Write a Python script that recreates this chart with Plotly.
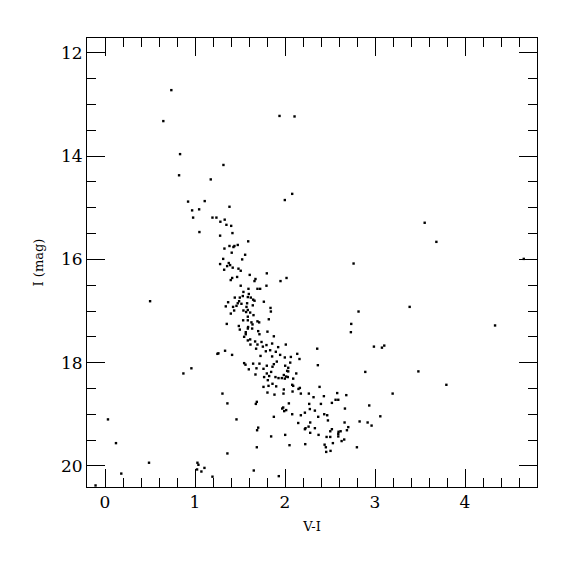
import plotly.graph_objects as go

# V-I colour and I magnitude of each star
v_i = [
    0.737, 0.648, 0.834, 1.316, 0.823, 1.175, 1.939, 2.106, 3.552, 3.682, 4.653, 0.501,
    0.923, 1.108, 0.968, 1.046, 1.383, 0.979, 1.194, 1.238, 1.330, 1.282, 1.349, 1.402,
    1.998, 1.049, 1.416, 1.279, 1.591, 1.475, 1.438, 1.427, 1.383, 1.327, 1.408, 1.557,
    1.313, 1.524, 1.375, 1.279, 1.390, 1.357, 1.419, 1.324, 1.483, 1.508, 1.798, 1.608,
    1.468, 1.672, 1.413, 1.397, 1.661, 2.017, 1.950, 1.508, 1.794,
    1.594, 1.694, 1.724, 1.538, 1.598, 1.442, 1.498, 1.531, 1.587, 1.620, 1.646, 1.661,
    1.765, 1.368, 1.490, 1.475, 1.516, 1.579, 1.642, 1.342, 1.423, 1.461, 1.572, 1.839,
    1.435, 1.538, 1.587, 1.568, 1.843, 1.398, 1.613, 1.650, 1.587, 1.820, 1.535, 1.587,
    1.627, 1.694, 1.713, 1.353, 1.487, 1.639, 1.590, 1.498, 1.587, 1.635, 1.564, 1.702,
    1.805, 1.716, 1.564, 1.546, 1.876, 1.613, 1.587, 1.668, 1.739, 1.616, 1.794, 1.694,
    1.857, 2.009, 1.754, 1.924, 1.679, 1.835, 1.787, 1.898, 1.334, 1.260, 1.249, 1.412,
    1.728, 1.946, 1.857, 1.998, 1.546, 1.561, 1.646, 1.716, 1.909, 1.876, 1.861, 1.798,
    0.960, 1.683, 1.761, 2.002, 1.598, 1.672, 1.798, 1.846, 1.768, 1.824, 1.894, 1.928,
    1.965, 2.013, 1.998, 1.987, 1.809, 1.761, 1.817, 1.861, 1.902, 2.024,
    2.080, 2.762, 2.817, 2.736, 2.732, 2.358, 2.988, 3.077, 3.103, 2.136, 2.065, 2.161,
    2.058, 2.036, 2.365, 2.036, 2.125, 2.892, 2.031, 2.091, 2.080, 2.091, 2.384,
    0.871, 0.033, 0.122, 0.489, 0.181, -0.105,
    1.305, 1.360, 1.687, 1.676, 1.805, 1.883, 1.983, 1.987, 1.980, 1.969, 1.991, 2.013,
    1.461, 1.876, 1.702, 1.690, 1.846, 2.002, 1.687, 1.360, 1.027, 1.038, 1.105, 1.023,
    1.071, 1.194, 1.653, 1.931,
    2.084, 2.150, 2.165, 2.176, 2.265, 2.317, 2.432, 2.580, 2.681, 2.562, 2.592, 2.521,
    2.043, 2.269, 2.399, 2.936, 2.666, 2.221, 2.276, 2.332, 2.080, 2.176, 2.369, 2.436,
    2.469, 2.477, 3.059, 2.147, 2.280, 2.662, 2.829, 2.918, 2.962, 2.262, 2.228, 2.221,
    2.332, 2.521, 2.503, 2.703, 2.688, 2.618, 2.595, 2.592, 2.592, 2.280, 2.373, 2.462,
    2.503, 2.658, 2.629, 2.532, 2.050, 2.225, 2.440, 2.454, 2.799, 2.506, 2.458,
    3.385, 4.334, 3.482, 3.793, 3.196,
]
i_mag = [
    12.72, 13.32, 13.96, 14.17, 14.37, 14.45, 13.22, 13.23, 15.29, 15.66, 15.99, 16.81,
    14.88, 14.87, 15.05, 15.03, 14.98, 15.19, 15.19, 15.19, 15.23, 15.27, 15.33, 15.35,
    14.85, 15.47, 15.49, 15.54, 15.65, 15.72, 15.74, 15.76, 15.74, 15.79, 15.87, 15.91,
    15.99, 16.00, 16.07, 16.09, 16.11, 16.13, 16.16, 16.20, 16.18, 16.22, 16.27, 16.30,
    16.34, 16.38, 16.36, 16.40, 16.42, 16.36, 16.42, 16.51, 16.51,
    16.57, 16.57, 16.57, 16.63, 16.67, 16.74, 16.74, 16.71, 16.73, 16.74, 16.78, 16.80,
    16.82, 16.83, 16.81, 16.85, 16.86, 16.85, 16.89, 16.91, 16.92, 16.90, 16.92, 16.94,
    16.99, 16.99, 16.98, 17.02, 17.01, 17.05, 17.03, 17.08, 17.11, 17.16, 17.18, 17.18,
    17.22, 17.20, 17.22, 17.25, 17.29, 17.26, 17.31, 17.36, 17.34, 17.34, 17.41, 17.39,
    17.40, 17.45, 17.45, 17.50, 17.49, 17.55, 17.57, 17.59, 17.60, 17.65, 17.66, 17.65,
    17.63, 17.65, 17.69, 17.70, 17.73, 17.76, 17.78, 17.79, 17.77, 17.82, 17.83, 17.85,
    17.87, 17.85, 17.88, 17.90, 18.01, 18.04, 18.02, 18.02, 17.98, 18.03, 18.08, 18.06,
    18.11, 18.11, 18.12, 18.06, 18.13, 18.23, 18.21, 18.18, 18.28, 18.26, 18.28, 18.30,
    18.30, 18.27, 18.31, 18.24, 18.34, 18.47, 18.45, 18.41, 18.46, 18.16,
    14.73, 16.08, 17.01, 17.25, 17.41, 17.73, 17.69, 17.71, 17.67, 17.83, 17.89, 17.93,
    18.00, 18.10, 18.05, 18.17, 18.21, 18.18, 18.28, 18.31, 18.43, 18.45, 18.47,
    18.21, 19.10, 19.56, 19.94, 20.15, 20.38,
    18.60, 18.79, 18.76, 18.80, 18.58, 18.62, 18.60, 18.52, 18.87, 18.89, 18.94, 18.92,
    19.10, 19.05, 19.26, 19.31, 19.43, 19.40, 19.64, 19.76, 19.94, 19.98, 20.04, 20.07,
    20.11, 20.21, 20.09, 20.20,
    18.56, 18.51, 18.49, 18.60, 18.60, 18.67, 18.65, 18.59, 18.63, 18.72, 18.72, 18.78,
    18.79, 18.80, 18.80, 18.83, 18.89, 18.97, 18.90, 18.93, 19.00, 19.02, 19.05, 19.00,
    19.02, 19.12, 19.04, 19.17, 19.16, 19.16, 19.14, 19.16, 19.22, 19.24, 19.27, 19.29,
    19.27, 19.29, 19.33, 19.25, 19.31, 19.33, 19.34, 19.38, 19.43, 19.36, 19.40, 19.44,
    19.44, 19.49, 19.52, 19.56, 19.60, 19.58, 19.59, 19.64, 19.64, 19.71, 19.73,
    16.92, 17.28, 18.17, 18.43, 18.60,
]

x_title = "V-I"
y_title = "I (mag)"

FONT = "DejaVu Serif"

fig = go.Figure(
    go.Scatter(
        x=v_i, y=i_mag, mode="markers",
        marker=dict(color="black", size=2.4, symbol="square", line=dict(width=0)),
        hoverinfo="skip",
    )
)

axis_common = dict(
    showgrid=False, zeroline=False, showline=True, linecolor="black", linewidth=1,
    mirror="allticks", ticks="inside", ticklen=18, tickwidth=1, tickcolor="black",
    tickfont=dict(family=FONT, size=17, color="black"),
)

fig.update_xaxes(
    range=[-0.2, 4.8], dtick=1, tick0=0,
    minor=dict(dtick=0.2, ticks="inside", ticklen=9, tickwidth=1, tickcolor="black", showgrid=False),
    title=dict(text=x_title, font=dict(family=FONT, size=13, color="black"), standoff=10),
    **axis_common,
)
fig.update_yaxes(
    range=[20.41, 11.71], dtick=2, tick0=12,
    minor=dict(dtick=0.5, ticks="inside", ticklen=9, tickwidth=1, tickcolor="black", showgrid=False),
    title=dict(text=y_title, font=dict(family=FONT, size=13, color="black"), standoff=14),
    **axis_common,
)

fig.update_layout(
    width=575, height=575,
    margin=dict(l=87, r=38, t=38, b=88, pad=0),
    paper_bgcolor="white", plot_bgcolor="white",
    showlegend=False,
)

fig.write_html("out.html", config={"displayModeBar": False},
               post_script="document.body.style.margin='0';")
